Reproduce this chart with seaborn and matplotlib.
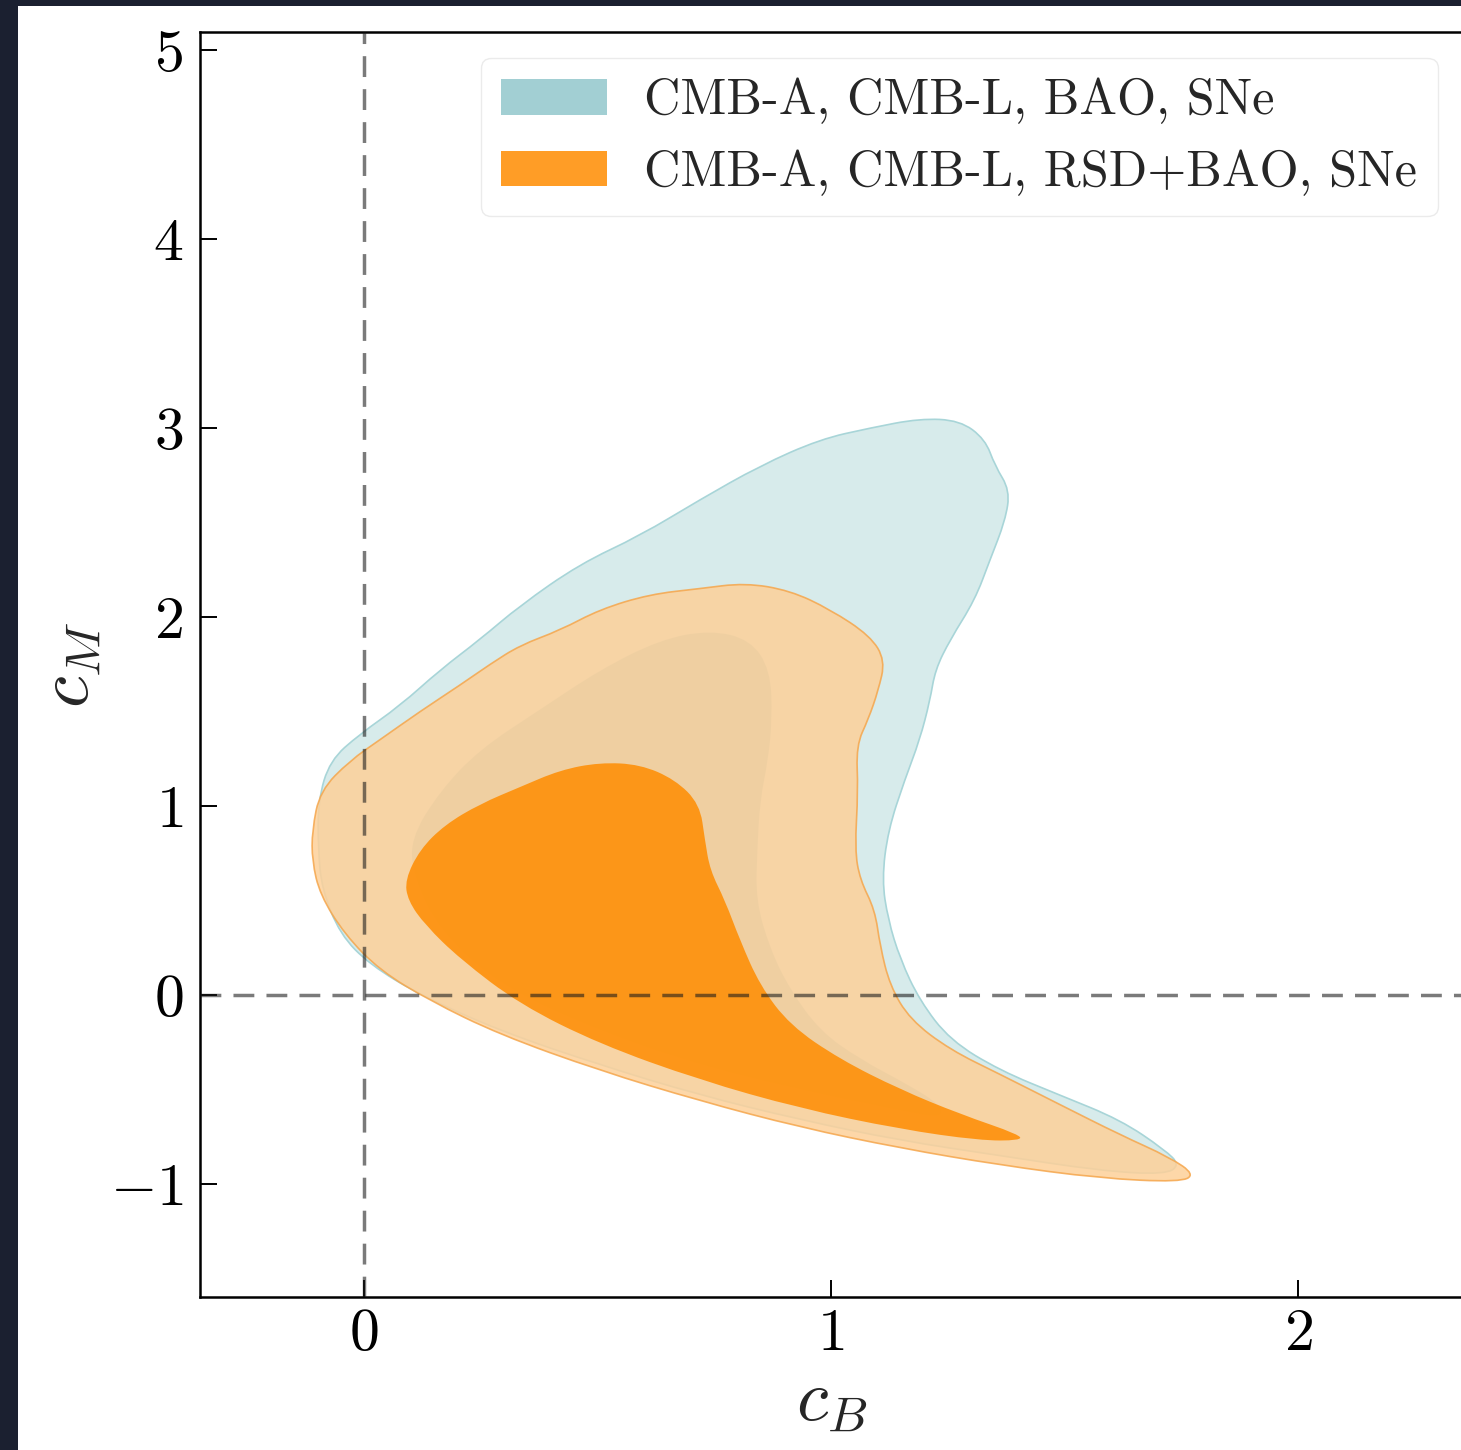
import matplotlib
matplotlib.use("Agg")
import matplotlib.pyplot as plt
from matplotlib.patches import Patch, PathPatch, Rectangle
from matplotlib.path import Path
import seaborn as sns

# ---------------------------------------------------------------- contour data (c_B, c_M)
# CMB-A, CMB-L, BAO, SNe : 95% region
blue_outer_x = [-0.098, -0.073, -0.009, 0.077, 0.163, 0.248, 0.334, 0.462, 0.591, 0.719,
                0.848, 0.976, 1.084, 1.190, 1.276, 1.330, 1.351, 1.383, 1.373, 1.340,
                1.308, 1.255, 1.223, 1.212, 1.190, 1.158, 1.122, 1.109, 1.122, 1.148,
                1.190, 1.255, 1.362, 1.490, 1.619, 1.715, 1.747, 1.715, 1.576, 1.362,
                1.148, 0.934, 0.719, 0.505, 0.291, 0.120, 0.013, -0.051, -0.090, -0.098]
blue_outer_y = [1.03, 1.24, 1.38, 1.53, 1.72, 1.88, 2.06, 2.28, 2.43, 2.62,
                2.80, 2.94, 3.00, 3.05, 3.04, 2.94, 2.80, 2.67, 2.51, 2.30,
                2.09, 1.88, 1.72, 1.56, 1.35, 1.14, 0.87, 0.61, 0.40, 0.19,
                -0.03, -0.24, -0.40, -0.53, -0.66, -0.82, -0.90, -0.95, -0.93, -0.85,
                -0.77, -0.66, -0.53, -0.37, -0.19, 0.00, 0.16, 0.32, 0.56, 0.77]

# CMB-A, CMB-L, BAO, SNe : 68% region
blue_inner_x = [0.098, 0.163, 0.248, 0.377, 0.505, 0.634, 0.741, 0.827, 0.870, 0.874,
                0.865, 0.848, 0.842, 0.839, 0.870, 0.912, 0.976, 1.062, 1.169, 1.233,
                1.238, 1.148, 0.934, 0.719, 0.505, 0.291, 0.163, 0.109]
blue_inner_y = [0.82, 1.08, 1.30, 1.51, 1.72, 1.88, 1.93, 1.88, 1.72, 1.46,
                1.24, 1.03, 0.77, 0.50, 0.24, 0.03, -0.19, -0.34, -0.48, -0.58,
                -0.65, -0.61, -0.50, -0.37, -0.19, 0.05, 0.34, 0.61]

# CMB-A, CMB-L, RSD+BAO, SNe : 95% region
orange_outer_x = [-0.111, -0.094, -0.030, 0.034, 0.120, 0.206, 0.270, 0.334, 0.420, 0.505,
                  0.612, 0.719, 0.816, 0.912, 0.998, 1.084, 1.116, 1.101, 1.080, 1.054,
                  1.058, 1.051, 1.062, 1.094, 1.105, 1.126, 1.169, 1.255, 1.362, 1.490,
                  1.619, 1.726, 1.779, 1.747, 1.576, 1.362, 1.148, 0.934, 0.719, 0.505,
                  0.291, 0.141, 0.034, -0.041, -0.094, -0.111]
orange_outer_y = [0.87, 1.08, 1.24, 1.35, 1.50, 1.64, 1.75, 1.85, 1.93, 2.04,
                  2.12, 2.15, 2.18, 2.14, 2.04, 1.90, 1.77, 1.61, 1.46, 1.32,
                  1.08, 0.77, 0.61, 0.45, 0.26, 0.05, -0.13, -0.29, -0.42, -0.58,
                  -0.74, -0.86, -0.95, -0.99, -0.97, -0.90, -0.81, -0.70, -0.56, -0.40,
                  -0.21, -0.03, 0.13, 0.32, 0.53, 0.71]

# CMB-A, CMB-L, RSD+BAO, SNe : 68% region
orange_inner_x = [0.088, 0.120, 0.173, 0.248, 0.334, 0.420, 0.505, 0.591, 0.666, 0.719,
                  0.730, 0.741, 0.773, 0.805, 0.848, 0.912, 1.019, 1.148, 1.276, 1.405,
                  1.405, 1.319, 1.148, 0.934, 0.719, 0.505, 0.334, 0.206, 0.131, 0.094]
orange_inner_y = [0.61, 0.77, 0.90, 1.01, 1.10, 1.19, 1.23, 1.22, 1.14, 1.01,
                  0.82, 0.66, 0.50, 0.29, 0.05, -0.16, -0.34, -0.50, -0.63, -0.74,
                  -0.77, -0.77, -0.71, -0.60, -0.45, -0.26, -0.05, 0.19, 0.37, 0.50]

labels = ["CMB-A, CMB-L, BAO, SNe", "CMB-A, CMB-L, RSD+BAO, SNe"]
x_ticks = [0, 1, 2]
y_ticks = [-1, 0, 1, 2, 3, 4, 5]

BLUE = "#a2cfd3"
BLUE_LIGHT = "#d7ebeb"
BLUE_EDGE = "#a8d5d8"
ORANGE = "#ff8c00"
ORANGE_LIGHT = "#fdd099"
ORANGE_EDGE = "#f5a64c"
ALPHA = 0.85


def smooth_region(xs, ys):
    # closed quadratic-bezier outline through the midpoints of the traced vertices
    pts = list(zip(xs, ys))
    n = len(pts)
    mid = [((pts[i][0] + pts[(i + 1) % n][0]) / 2, (pts[i][1] + pts[(i + 1) % n][1]) / 2)
           for i in range(n)]
    verts = [mid[-1]]
    codes = [Path.MOVETO]
    for i in range(n):
        verts += [pts[i], mid[i]]
        codes += [Path.CURVE3, Path.CURVE3]
    verts.append(mid[-1])
    codes.append(Path.CLOSEPOLY)
    return Path(verts, codes)


sns.set_theme(style="ticks")
plt.rcParams["font.family"] = ["cmr10", "DejaVu Serif"]
plt.rcParams["mathtext.fontset"] = "cm"
plt.rcParams["axes.formatter.use_mathtext"] = True
plt.rcParams["axes.unicode_minus"] = True

W, H = 1461, 1450
fig = plt.figure(figsize=(W / 100, H / 100), dpi=100, facecolor="#1b2030")
fig.patches.append(Rectangle((18 / W, 0), 1 - 18 / W, 1 - 6 / H, transform=fig.transFigure,
                             facecolor="white", edgecolor="none", zorder=-1))

ax = fig.add_axes([200 / W, 1 - 1297 / H, 1263 / W, 1265 / H])
ax.set_facecolor("white")

# blue set drawn first, opaque; orange on top with alpha
ax.add_patch(PathPatch(smooth_region(blue_outer_x, blue_outer_y), facecolor=BLUE_LIGHT,
                       edgecolor=BLUE_EDGE, lw=1.2, zorder=2))
ax.add_patch(PathPatch(smooth_region(blue_inner_x, blue_inner_y), facecolor=BLUE,
                       edgecolor="none", zorder=2))
ax.add_patch(PathPatch(smooth_region(orange_outer_x, orange_outer_y), facecolor=ORANGE_LIGHT,
                       edgecolor=ORANGE_EDGE, lw=1.2, alpha=ALPHA, zorder=3))
ax.add_patch(PathPatch(smooth_region(orange_inner_x, orange_inner_y), facecolor=ORANGE,
                       edgecolor="none", alpha=ALPHA, zorder=3))

ax.axvline(0, color="k", ls="--", lw=2.5, alpha=0.58, dashes=(6, 3.5), zorder=4)
ax.axhline(0, color="k", ls="--", lw=2.5, alpha=0.58, dashes=(6, 3.5), zorder=4)

ax.set_xlim(-0.351, 2.353)
ax.set_ylim(-1.598, 5.095)
ax.set_xticks(x_ticks)
ax.set_yticks(y_ticks)
ax.tick_params(direction="in", length=12, width=1.4, labelsize=43, colors="black")
ax.tick_params(axis="y", pad=12)
ax.tick_params(axis="x", pad=8)
for s in ax.spines.values():
    s.set_linewidth(1.8)
    s.set_color("black")

ax.set_xlabel("$c_B$", fontsize=52, labelpad=5)
ax.set_ylabel("$c_M$", fontsize=52, labelpad=5)

handles = [Patch(facecolor=BLUE, edgecolor="none"),
           Patch(facecolor=ORANGE, edgecolor="none", alpha=ALPHA)]
ax.legend(handles, labels, loc="upper left", bbox_to_anchor=(481 / W, 1 - 58 / H),
          bbox_transform=fig.transFigure, borderaxespad=0, fontsize=36.2,
          handlelength=2.1, handletextpad=0.75,
          frameon=True, framealpha=0.8, edgecolor="0.9", fancybox=True)

fig.savefig("out.png", dpi=100, facecolor=fig.get_facecolor())
